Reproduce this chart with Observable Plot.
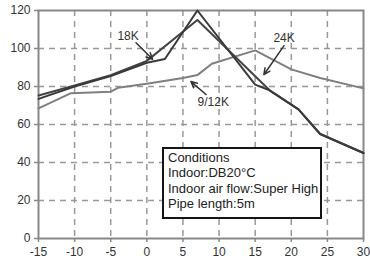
<!DOCTYPE html>
<html>
<head>
<meta charset="utf-8">
<script src="https://cdn.jsdelivr.net/npm/d3@7"></script>
<script src="https://cdn.jsdelivr.net/npm/@observablehq/plot@0.6"></script>
<style>
  html, body { margin: 0; padding: 0; background: #fff; }
  #wrap { position: relative; width: 370px; height: 260px; }
  #box {
    position: absolute; left: 162px; top: 147px; width: 160px; height: 72px;
    box-sizing: border-box; border: 2px solid #151515; background: #fff;
    font-family: "Liberation Sans", Arial, sans-serif; font-size: 13px; line-height: 15.3px;
    color: #222; padding: 1px 0 0 4px; white-space: nowrap;
  }
</style>
</head>
<body>
<div id="wrap"><div id="box"></div></div>
<script>
// Outdoor temperature (x) and capacity ratio (y)
const x18 = [-15, -10, -5, 0, 2.5, 7, 15, 17, 21, 24, 30];
const y18 = [73.5, 80, 85.5, 92.5, 94.5, 120, 81, 78, 68, 55, 45];
const x24 = [-15, -10, -5, 0, 7, 17, 21, 24, 30];
const y24 = [75.3, 80.5, 86, 93.5, 115, 78, 68, 55, 45];
const x912 = [-15, -10.5, -5, -4, 0, 5, 7, 9, 15, 20, 24, 30];
const y912 = [68.5, 76.5, 77.3, 79.3, 81.5, 84.5, 86, 92, 99, 89, 84.5, 79];

const xTicks = [-15, -10, -5, 0, 5, 10, 15, 20, 25, 30];
const yTicks = [0, 20, 40, 60, 80, 100, 120];

// Series labels and their arrows (data units)
const labelNames = ["18K", "24K", "9/12K"];
const labelX = [-2.6, 19.0, 9.2];
const labelY = [106.3, 105.3, 71.6];
const arrowX1 = [-1.5, 19.0, 8.2];
const arrowY1 = [103.0, 101.5, 75.8];
const arrowX2 = [0.8, 16.2, 6.1];
const arrowY2 = [94.3, 86.2, 82.6];

const boxLines = ["Conditions", "Indoor:DB20°C", "Indoor air flow:Super High", "Pipe length:5m"];

const toPts = (xs, ys) => xs.map((x, i) => ({x, y: ys[i]}));
const labels = labelNames.map((t, i) => ({t, x: labelX[i], y: labelY[i]}));
const arrows = labelNames.map((t, i) => ({x1: arrowX1[i], y1: arrowY1[i], x2: arrowX2[i], y2: arrowY2[i]}));
const fmt = d => String(d);

const chart = Plot.plot({
  width: 370,
  height: 260,
  marginLeft: 38,
  marginRight: 7,
  marginTop: 10,
  marginBottom: 22,
  style: {fontFamily: "'Liberation Sans', Arial, sans-serif", fontSize: "12px", color: "#333", background: "#fff"},
  x: {domain: [-15, 30], label: null},
  y: {domain: [0, 120], label: null},
  marks: [
    Plot.ruleX(xTicks.slice(1, -1), {stroke: "#999", strokeWidth: 1.5, strokeDasharray: "6,5", strokeOpacity: 1}),
    Plot.ruleY(yTicks.slice(1, -1), {stroke: "#999", strokeWidth: 1.5, strokeDasharray: "6,5", strokeOpacity: 1}),
    Plot.frame({stroke: "#888", strokeWidth: 2}),
    Plot.axisX({ticks: xTicks, tickFormat: fmt, tickSize: 4, tickPadding: 5, stroke: "#888", strokeWidth: 1.5, fill: "#333", fontSize: 12}),
    Plot.axisY({ticks: yTicks, tickFormat: fmt, tickSize: 4, tickPadding: 4, stroke: "#888", strokeWidth: 1.5, fill: "#333", fontSize: 12}),
    Plot.line(toPts(x912, y912), {x: "x", y: "y", stroke: "#7f7f7f", strokeWidth: 2}),
    Plot.line(toPts(x24, y24), {x: "x", y: "y", stroke: "#444", strokeWidth: 2}),
    Plot.line(toPts(x18, y18), {x: "x", y: "y", stroke: "#3a3a3a", strokeWidth: 2}),
    Plot.arrow(arrows, {x1: "x1", y1: "y1", x2: "x2", y2: "y2", stroke: "#333", strokeWidth: 1.5, headLength: 7, headAngle: 50}),
    Plot.text(labels, {x: "x", y: "y", text: "t", fontSize: 12, fill: "#333", textAnchor: "middle", lineAnchor: "middle"})
  ]
});
document.getElementById("wrap").prepend(chart);
document.getElementById("box").innerHTML = boxLines.map(s => `<div>${s}</div>`).join("");
</script>
</body>
</html>
